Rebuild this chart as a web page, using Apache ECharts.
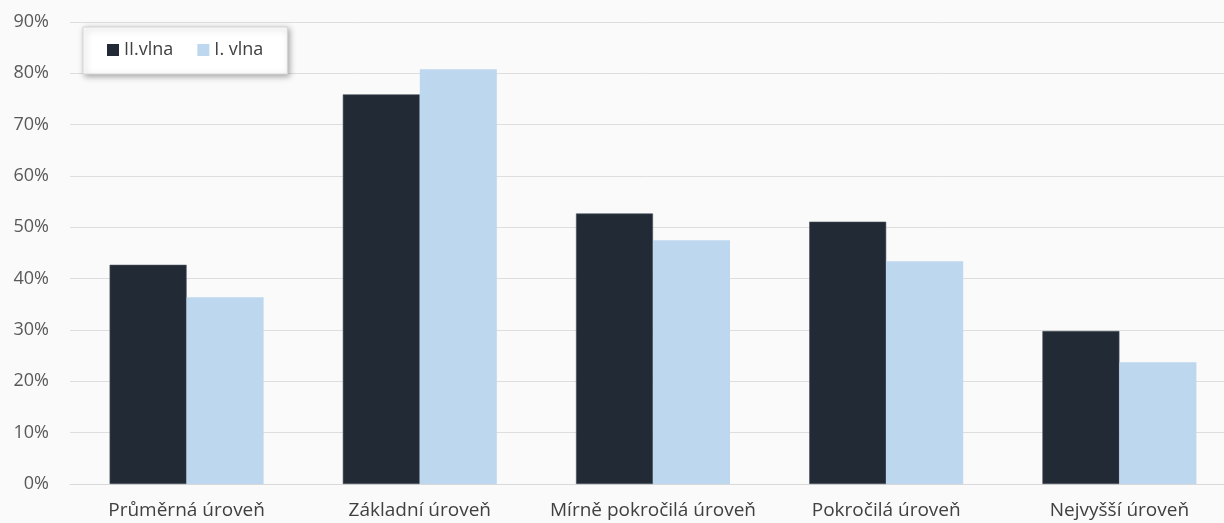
<!DOCTYPE html>
<html>
<head>
<meta charset="utf-8">
<script src="https://cdn.jsdelivr.net/npm/echarts@6/dist/echarts.min.js"></script>
<style>html,body{margin:0;padding:0;background:#fafafa}#c{width:1224px;height:523px}</style>
</head>
<body>
<div id="c"></div>
<script>
const categories = ['Průměrná úroveň', 'Základní úroveň', 'Mírně pokročilá úroveň', 'Pokročilá úroveň', 'Nejvyšší úroveň'];
const wave2 = [42.7, 75.9, 52.7, 51.1, 29.8];
const wave1 = [36.4, 80.8, 47.5, 43.4, 23.7];
const seriesNames = ['II.vlna', 'I. vlna'];

const chart = echarts.init(document.getElementById('c'));
const font = '"Open Sans", "Noto Sans", sans-serif';
chart.setOption({
  backgroundColor: '#fafafa',
  animation: false,
  textStyle: { fontFamily: font },
  grid: { left: 70, right: -12, top: 22, bottom: 39, containLabel: false, outerBoundsMode: 'none' },
  legend: {
    left: 83, top: 27,
    padding: [14, 24, 15, 24],
    itemWidth: 12, itemHeight: 12, itemGap: 24,
    icon: 'rect',
    itemStyle: { borderWidth: 0 },
    backgroundColor: '#ffffff',
    borderColor: '#d6d6d6', borderWidth: 1,
    shadowBlur: 6, shadowColor: 'rgba(0,0,0,0.35)', shadowOffsetX: 2, shadowOffsetY: 2,
    textStyle: { fontSize: 18, color: '#404040', fontFamily: font },
    data: seriesNames
  },
  xAxis: {
    type: 'category',
    data: categories,
    axisLine: { lineStyle: { color: '#d9d9d9', width: 1 } },
    axisTick: { show: false },
    axisLabel: { fontSize: 19, color: '#404040', margin: 17, fontFamily: font, interval: 0 }
  },
  yAxis: {
    type: 'value',
    min: 0, max: 90, interval: 10,
    axisLine: { show: false },
    axisTick: { show: false },
    splitLine: { lineStyle: { color: '#dedede', width: 1 } },
    axisLabel: { fontSize: 18, color: '#595959', margin: 21, fontFamily: font, formatter: v => v + '%' }
  },
  series: [
    { name: seriesNames[0], type: 'bar', data: wave2, barWidth: 77, barGap: '0%',
      itemStyle: { color: '#222a35', borderColor: '#4a5260', borderWidth: 0.6 } },
    { name: seriesNames[1], type: 'bar', data: wave1, barWidth: 77,
      itemStyle: { color: '#bdd7ee' } }
  ]
});
</script>
</body>
</html>
